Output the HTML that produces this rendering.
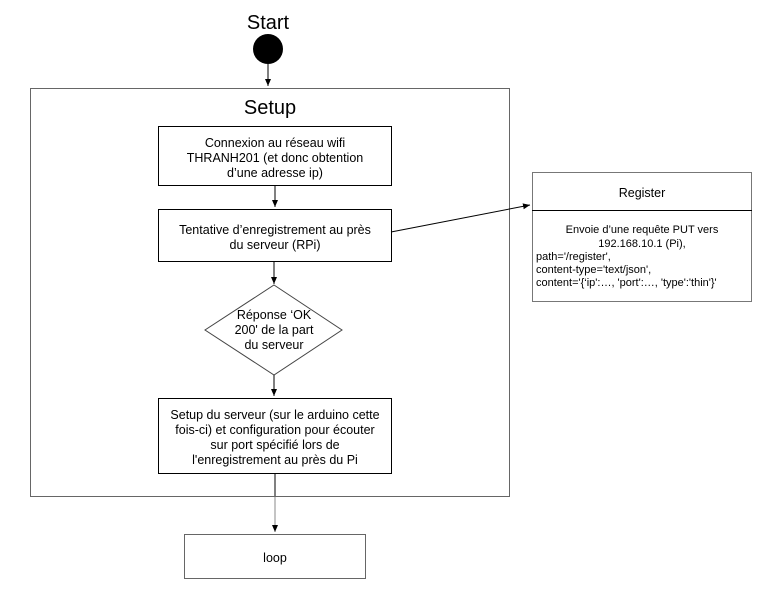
<!DOCTYPE html>
<html><head><meta charset="utf-8"><style>
html,body{margin:0;padding:0;background:#fff;}
svg text{font-family:"Liberation Sans",Arial,sans-serif;fill:#000;}
</style></head><body>
<svg width="764" height="598" viewBox="0 0 764 598" xmlns="http://www.w3.org/2000/svg">
<defs><marker id="a" markerWidth="8" markerHeight="8" refX="7" refY="4" orient="auto" markerUnits="userSpaceOnUse"><path d="M0,1 L7,4 L0,7 z" fill="#000"/></marker></defs>
<text x="268" y="29" font-size="20" text-anchor="middle">Start</text>
<circle cx="268" cy="49" r="15" fill="#000"/>
<line x1="268" y1="64" x2="268" y2="86" stroke="#000" marker-end="url(#a)"/>
<rect x="30.5" y="88.5" width="479" height="408" fill="none" stroke="#666"/>
<text x="270" y="114" font-size="20" text-anchor="middle">Setup</text>
<rect x="158.5" y="126.5" width="233" height="59" fill="#fff" stroke="#000"/>
<text font-size="12.5" text-anchor="middle"><tspan x="275" y="147">Connexion au réseau wifi</tspan><tspan x="275" y="162">THRANH201 (et donc obtention</tspan><tspan x="275" y="177">d’une adresse ip)</tspan></text>
<line x1="275" y1="186" x2="275" y2="207" stroke="#000" marker-end="url(#a)"/>
<rect x="158.5" y="209.5" width="233" height="52" fill="#fff" stroke="#000"/>
<text font-size="12.5" text-anchor="middle"><tspan x="275" y="234">Tentative d’enregistrement au près</tspan><tspan x="275" y="249">du serveur (RPi)</tspan></text>
<line x1="391" y1="232" x2="530" y2="205" stroke="#000" marker-end="url(#a)"/>
<line x1="274" y1="262" x2="274" y2="284" stroke="#000" marker-end="url(#a)"/>
<polygon points="274,285 342,330 274,375 205,330" fill="#fff" stroke="#444"/>
<text font-size="12.5" text-anchor="middle"><tspan x="274" y="319">Réponse ‘OK</tspan><tspan x="274" y="334">200' de la part</tspan><tspan x="274" y="349">du serveur</tspan></text>
<line x1="274" y1="375" x2="274" y2="396" stroke="#000" marker-end="url(#a)"/>
<rect x="158.5" y="398.5" width="233" height="75" fill="#fff" stroke="#000"/>
<text font-size="12.5" text-anchor="middle"><tspan x="275" y="419">Setup du serveur (sur le arduino cette</tspan><tspan x="275" y="434">fois-ci) et configuration pour écouter</tspan><tspan x="275" y="449">sur port spécifié lors de</tspan><tspan x="275" y="464">l'enregistrement au près du Pi</tspan></text>
<line x1="275" y1="474" x2="275" y2="496" stroke="#000"/>
<line x1="275" y1="497" x2="275" y2="532" stroke="#888" marker-end="url(#a)"/>
<rect x="184.5" y="534.5" width="181" height="44" fill="#fff" stroke="#666"/>
<text x="275" y="562" font-size="12.5" text-anchor="middle">loop</text>
<rect x="532.5" y="172.5" width="219" height="129" fill="#fff" stroke="#777"/>
<line x1="532" y1="210.5" x2="752" y2="210.5" stroke="#000"/>
<text x="642" y="197" font-size="12.5" text-anchor="middle">Register</text>
<text font-size="11"><tspan x="642" y="233" text-anchor="middle">Envoie d’une requête PUT vers</tspan><tspan x="642" y="247" text-anchor="middle">192.168.10.1 (Pi),</tspan><tspan x="536" y="260">path='/register',</tspan><tspan x="536" y="273">content-type='text/json',</tspan><tspan x="536" y="286">content='{‘ip':…, 'port':…, 'type':'thin'}'</tspan></text>
</svg>
</body></html>
